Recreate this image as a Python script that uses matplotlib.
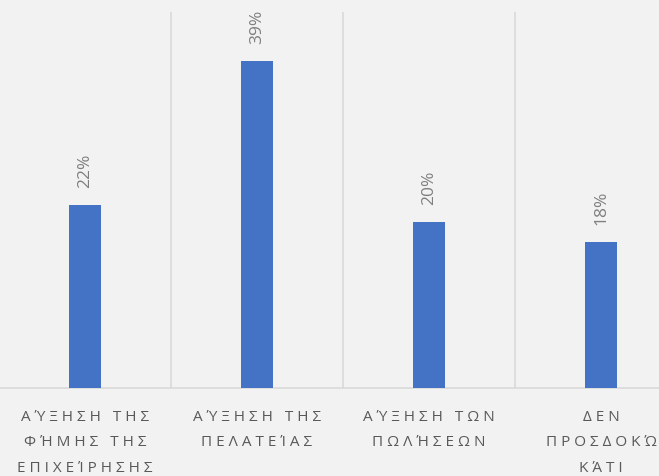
import numpy as np
import matplotlib
matplotlib.use("Agg")
import matplotlib.pyplot as plt

plt.rcParams.update({
    "font.family": ["Open Sans", "DejaVu Sans"],
})

categories = [
    "Α Ύ Ξ Η Σ Η   Τ Η Σ\nΦ Ή Μ Η Σ   Τ Η Σ\nΕ Π Ι Χ Ε Ί Ρ Η Σ Η Σ",
    "Α Ύ Ξ Η Σ Η   Τ Η Σ\nΠ Ε Λ Α Τ Ε Ί Α Σ",
    "Α Ύ Ξ Η Σ Η   Τ Ω Ν\nΠ Ω Λ Ή Σ Ε Ω Ν",
    "Δ Ε Ν\nΠ Ρ Ο Σ Δ Ο Κ Ώ\nΚ Ά Τ Ι",
]
values = [21.8, 39.0, 19.8, 17.4]
labels = ["22%", "39%", "20%", "18%"]

BG = "#f2f2f2"
BAR = "#4472c4"
TXT = "#595959"

fig = plt.figure(figsize=(6.59, 4.77), dpi=100, facecolor=BG)
ax = fig.add_axes([-1 / 659, 88 / 477, 688 / 659, 376 / 477], facecolor=BG)

x = np.arange(len(values))
ax.bar(x, values, width=0.19, color=BAR, zorder=3)
for xi, v, lab in zip(x, values, labels):
    ax.annotate(lab, (xi, v), xytext=(0, 13), textcoords="offset points",
                rotation=90, ha="center", va="bottom", fontsize=12.5, color="#7f7f7f")

ax.set_xlim(-0.5, 3.5)
ax.set_ylim(0, 44.8)
for b in [0.5, 1.5, 2.5]:
    ax.axvline(b, color="#d9d9d9", lw=1.2, zorder=1)

for s in ["top", "left", "right"]:
    ax.spines[s].set_visible(False)
ax.spines["bottom"].set_color("#d9d9d9")
ax.spines["bottom"].set_linewidth(1.2)
ax.set_yticks([])
ax.set_xticks(x)
ax.set_xticklabels(categories, fontsize=11, color=TXT, linespacing=1.95)
ax.tick_params(axis="x", length=0, pad=15)

fig.savefig("out.png", dpi=100, facecolor=BG)
